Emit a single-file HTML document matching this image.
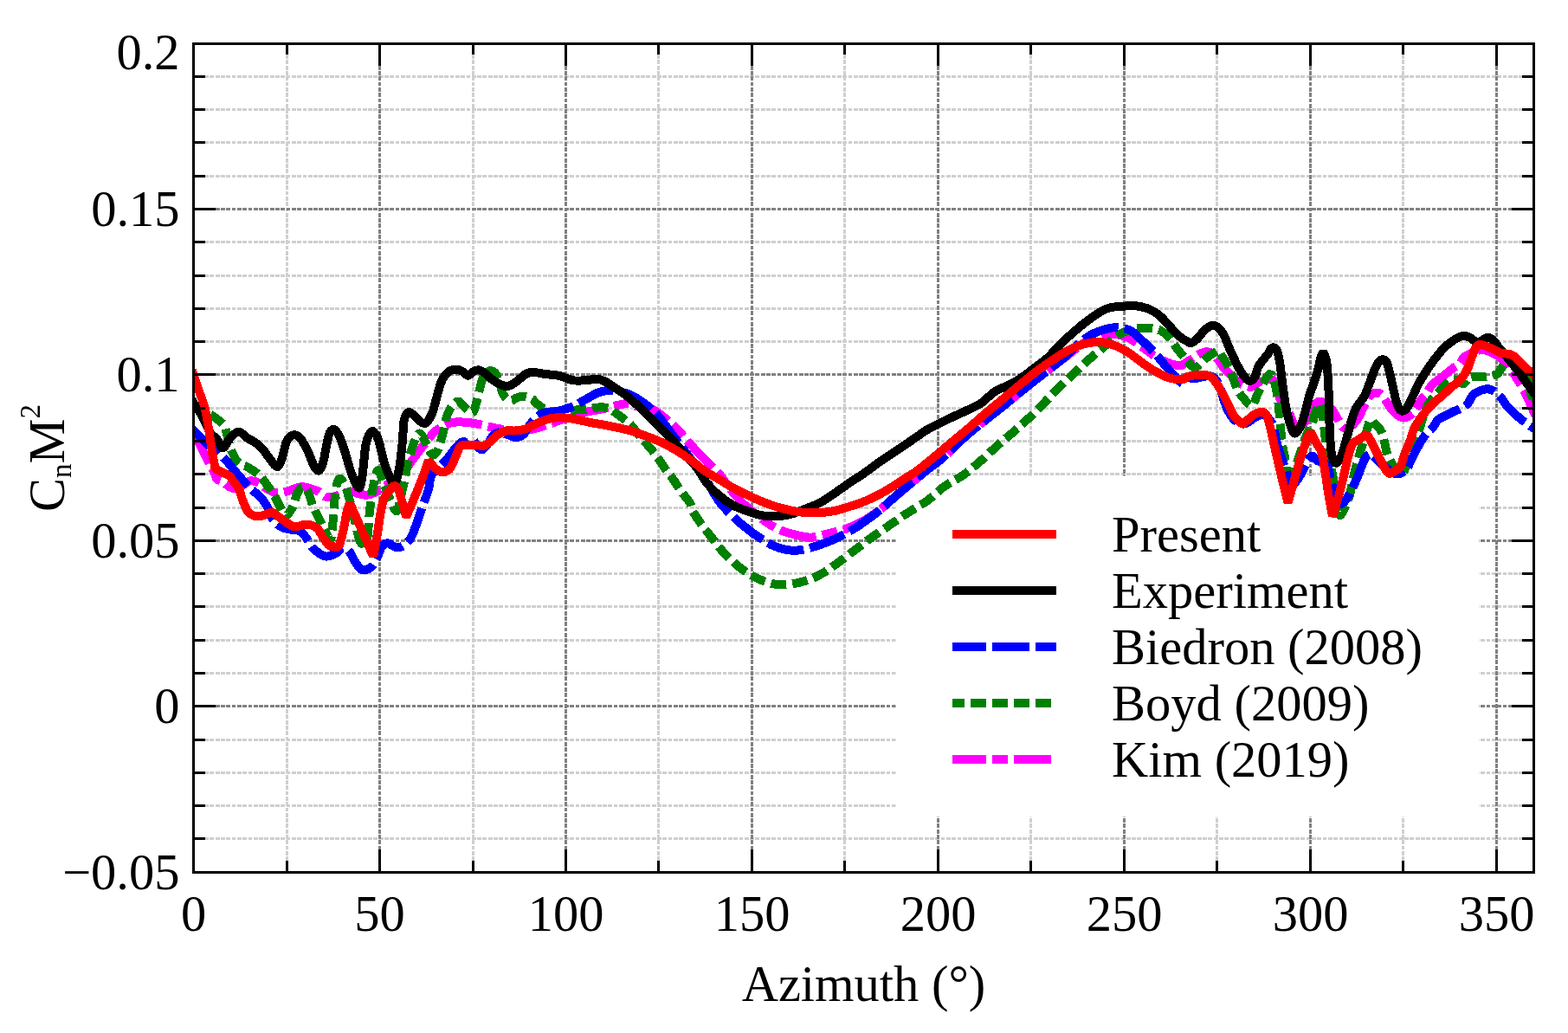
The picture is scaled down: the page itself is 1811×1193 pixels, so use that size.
<!DOCTYPE html>
<html lang="en"><head><meta charset="utf-8"><title>CnM2 vs Azimuth</title>
<style>html,body{margin:0;padding:0;background:#fff;}body{width:1811px;height:1193px;overflow:hidden;}svg{display:block;}text{font-family:"Liberation Serif", "DejaVu Serif", serif;font-size:58.5px;fill:#000;}</style></head><body>
<svg width="1811" height="1193" viewBox="0 0 1811 1193" role="img" aria-label="Normal force coefficient versus azimuth">
<rect x="0" y="0" width="1811" height="1193" fill="#fff"/>
<g fill="none" stroke-width="3" stroke-dasharray="4.8 1.5" shape-rendering="crispEdges">
<g stroke="#cfcfcf">
<path d="M223.5 968.5H1771.5"/>
<path d="M223.5 930.5H1771.5"/>
<path d="M223.5 892.5H1771.5"/>
<path d="M223.5 854.5H1771.5"/>
<path d="M223.5 777.5H1771.5"/>
<path d="M223.5 739.5H1771.5"/>
<path d="M223.5 700.5H1771.5"/>
<path d="M223.5 662.5H1771.5"/>
<path d="M223.5 586.5H1771.5"/>
<path d="M223.5 547.5H1771.5"/>
<path d="M223.5 509.5H1771.5"/>
<path d="M223.5 471.5H1771.5"/>
<path d="M223.5 394.5H1771.5"/>
<path d="M223.5 356.5H1771.5"/>
<path d="M223.5 318.5H1771.5"/>
<path d="M223.5 279.5H1771.5"/>
<path d="M223.5 203.5H1771.5"/>
<path d="M223.5 164.5H1771.5"/>
<path d="M223.5 126.5H1771.5"/>
<path d="M223.5 88.5H1771.5"/>
<path d="M331.5 50.5V1007.5"/>
<path d="M546.5 50.5V1007.5"/>
<path d="M760.5 50.5V1007.5"/>
<path d="M975.5 50.5V1007.5"/>
<path d="M1190.5 50.5V1007.5"/>
<path d="M1405.5 50.5V1007.5"/>
<path d="M1620.5 50.5V1007.5"/>
</g><g stroke="#808080">
<path d="M223.5 815.5H1771.5"/>
<path d="M223.5 624.5H1771.5"/>
<path d="M223.5 432.5H1771.5"/>
<path d="M223.5 241.5H1771.5"/>
<path d="M438.5 50.5V1007.5"/>
<path d="M653.5 50.5V1007.5"/>
<path d="M868.5 50.5V1007.5"/>
<path d="M1083.5 50.5V1007.5"/>
<path d="M1298.5 50.5V1007.5"/>
<path d="M1513.5 50.5V1007.5"/>
<path d="M1728.5 50.5V1007.5"/>
</g></g>
<rect x="1034.5" y="549.5" width="674.0" height="394.0" fill="#fff"/>
<clipPath id="c"><rect x="223.5" y="50.5" width="1548.0" height="957.0"/></clipPath>
<g clip-path="url(#c)" fill="none" stroke-width="10" stroke-linejoin="bevel" stroke-linecap="butt" shape-rendering="crispEdges">
<path stroke="#ff00ff" stroke-dasharray="43 7 18 7" d="M221.5 497.0C221.7 497.4 222.8 499.4 223.5 500.6C226.3 505.6 229.0 510.3 231.8 515.6C234.6 520.9 237.3 527.1 240.1 532.4C242.9 537.7 245.7 541.7 248.5 547.5C249.0 548.5 249.5 552.3 250.0 552.8C252.5 555.3 255.0 555.0 257.5 556.6C260.0 558.2 262.6 561.0 265.1 562.3C267.6 563.6 270.1 564.5 272.6 564.2C275.1 563.9 277.7 561.8 280.2 560.4C283.1 558.8 286.1 555.9 289.0 555.4C291.9 554.9 294.9 555.8 297.8 557.2C301.1 558.8 304.5 562.2 307.8 564.2C311.2 566.2 314.5 568.4 317.9 569.2C320.8 569.9 323.8 569.1 326.7 568.6C329.6 568.1 332.6 567.2 335.5 566.2C338.4 565.2 341.4 563.6 344.3 562.9C346.8 562.3 349.3 562.2 351.8 562.5C354.7 562.9 357.7 563.9 360.6 564.9C363.1 565.7 365.7 566.4 368.2 567.9C370.7 569.3 373.2 572.5 375.7 573.6C378.2 574.7 380.7 574.6 383.2 574.2C387.0 573.6 390.8 571.4 394.6 570.4C398.8 569.3 402.9 567.9 407.1 567.9C409.6 567.9 412.2 569.8 414.7 570.4C417.6 571.1 420.6 571.9 423.5 571.7C426.4 571.5 429.4 570.5 432.3 569.2C434.8 568.0 437.3 565.8 439.8 564.2C441.9 562.9 444.0 561.9 446.1 560.4C449.4 558.1 452.8 555.3 456.1 552.8C459.5 550.3 462.8 548.9 466.2 545.3C470.0 541.2 473.8 534.6 477.6 529.5C481.8 523.9 485.9 518.3 490.1 513.1C494.3 507.8 498.5 501.9 502.7 498.0C506.1 494.8 509.4 493.6 512.8 491.8C515.3 490.5 517.8 489.3 520.3 488.6C522.8 487.9 525.3 487.5 527.8 487.4C532.0 487.3 536.2 487.6 540.4 488.0C544.6 488.4 548.8 489.1 553.0 489.9C556.3 490.5 559.7 491.6 563.0 492.4C565.9 493.1 568.9 493.7 571.8 494.3C573.9 494.7 576.0 495.2 578.1 495.5C582.3 496.2 586.5 497.1 590.7 497.4C594.9 497.7 599.1 497.7 603.3 497.4C607.5 497.1 611.6 496.4 615.8 495.5C620.0 494.6 624.2 493.2 628.4 491.8C632.6 490.4 636.8 488.9 641.0 487.4C645.2 485.9 649.3 484.5 653.5 483.0C657.7 481.5 661.9 479.9 666.1 478.6C670.3 477.3 674.5 476.3 678.7 475.4C684.7 474.1 690.8 473.4 696.8 472.1C702.4 470.9 707.9 469.1 713.5 467.9C716.9 467.2 720.2 466.1 723.6 466.3C726.9 466.4 730.3 468.0 733.6 468.8C740.9 470.5 748.1 470.9 755.4 473.8C759.3 475.4 763.3 479.1 767.2 482.2C771.7 485.8 776.1 489.4 780.6 493.9C785.1 498.4 789.5 504.0 794.0 509.0C798.5 514.0 802.9 519.4 807.4 524.1C811.9 528.9 816.3 533.1 820.8 537.5C824.0 540.6 827.1 543.0 830.3 546.8C834.8 552.2 839.2 559.7 843.7 565.3C848.2 570.9 852.6 575.8 857.1 580.3C861.6 584.8 866.0 588.5 870.5 592.1C875.0 595.7 879.4 599.0 883.9 602.1C888.4 605.2 892.8 608.3 897.3 610.5C901.8 612.7 906.2 614.1 910.7 615.5C915.2 616.9 919.6 618.0 924.1 618.9C928.6 619.8 933.0 620.8 937.5 620.6C942.0 620.4 946.4 618.8 950.9 617.7C955.4 616.6 959.9 615.4 964.4 614.2C968.9 613.0 973.3 612.1 977.8 610.5C982.3 608.9 986.7 606.8 991.2 604.6C995.7 602.4 1000.1 600.0 1004.6 597.1C1009.1 594.2 1013.5 591.0 1018.0 587.5C1022.5 583.9 1026.9 579.6 1031.4 575.8C1035.9 571.9 1040.3 568.2 1044.8 564.4C1052.8 557.7 1060.9 550.8 1068.9 544.3C1075.3 539.1 1081.8 534.9 1088.2 529.3C1097.8 520.9 1107.5 510.6 1117.1 502.3C1129.9 491.3 1142.8 481.8 1155.6 471.5C1168.5 461.1 1181.3 450.4 1194.2 440.2C1200.6 435.1 1207.1 430.3 1213.5 425.4C1219.9 420.5 1226.3 415.5 1232.7 410.6C1239.1 405.7 1245.6 399.7 1252.0 395.9C1258.4 392.1 1264.9 389.7 1271.3 387.8C1276.4 386.3 1281.6 385.6 1286.7 385.9C1291.8 386.2 1297.0 387.4 1302.1 389.7C1307.2 391.9 1312.4 395.9 1317.5 399.4C1322.7 402.9 1327.8 407.7 1333.0 410.9C1338.1 414.1 1343.3 416.8 1348.4 418.7C1353.5 420.6 1358.7 422.5 1363.8 422.5C1365.9 422.5 1367.9 419.8 1370.0 418.5C1372.1 417.2 1374.2 416.0 1376.3 414.7C1379.2 412.9 1382.2 410.5 1385.1 409.1C1388.0 407.7 1391.0 406.2 1393.9 406.2C1396.4 406.2 1398.9 407.2 1401.4 409.1C1403.5 410.7 1405.6 413.9 1407.7 416.6C1409.8 419.3 1411.9 423.0 1414.0 425.4C1416.9 428.8 1419.9 431.4 1422.8 434.2C1425.7 437.0 1428.7 440.4 1431.6 442.4C1434.5 444.4 1437.5 445.3 1440.4 446.2C1442.1 446.7 1443.7 447.4 1445.4 446.8C1447.9 445.9 1450.5 443.3 1453.0 441.8C1455.5 440.3 1458.0 438.6 1460.5 438.0C1463.0 437.4 1465.5 437.2 1468.0 438.0C1469.7 438.5 1471.4 438.2 1473.1 441.8C1474.3 444.4 1475.6 453.5 1476.8 456.8C1478.9 462.3 1481.0 464.6 1483.1 468.2C1485.2 471.8 1487.3 474.2 1489.4 478.2C1491.5 482.2 1493.6 489.7 1495.7 492.0C1497.8 494.3 1499.9 493.0 1502.0 492.0C1504.1 491.0 1506.2 488.9 1508.3 485.8C1510.4 482.7 1512.5 476.7 1514.6 473.2C1516.7 469.8 1518.7 466.7 1520.8 465.0C1522.5 463.6 1524.2 463.4 1525.9 463.8C1528.0 464.3 1530.1 465.9 1532.2 467.5C1534.3 469.1 1536.3 470.6 1538.4 473.2C1540.5 475.8 1542.6 479.7 1544.7 483.2C1546.4 486.0 1548.0 490.1 1549.7 492.0C1551.4 493.9 1553.1 494.8 1554.8 494.6C1557.3 494.4 1559.8 493.1 1562.3 490.8C1564.9 488.5 1567.4 485.1 1570.0 480.7C1572.1 477.1 1574.2 470.8 1576.3 466.8C1578.4 462.8 1580.5 459.0 1582.6 456.8C1584.7 454.6 1586.8 453.8 1588.9 453.6C1591.0 453.4 1593.0 453.7 1595.1 455.5C1597.2 457.3 1599.3 461.4 1601.4 464.3C1603.5 467.2 1605.6 470.6 1607.7 473.1C1609.8 475.6 1611.9 478.0 1614.0 479.4C1616.5 481.1 1619.0 482.6 1621.5 482.6C1624.0 482.6 1626.6 481.1 1629.1 479.4C1631.2 478.0 1633.3 476.1 1635.4 473.1C1637.1 470.7 1638.7 465.6 1640.4 463.1C1642.9 459.3 1645.4 457.8 1647.9 454.3C1649.6 451.9 1651.3 447.3 1653.0 445.5C1657.2 441.0 1661.3 438.7 1665.5 435.4C1669.7 432.0 1673.9 428.6 1678.1 425.4C1680.6 423.5 1683.1 422.8 1685.6 420.3C1687.3 418.6 1689.0 414.4 1690.7 412.8C1693.2 410.4 1695.7 409.7 1698.2 408.4C1700.7 407.1 1703.3 405.7 1705.8 405.0C1708.3 404.3 1710.8 404.0 1713.3 404.2C1715.8 404.4 1718.3 405.3 1720.8 406.3C1724.2 407.7 1727.5 409.2 1730.9 411.5C1733.4 413.2 1735.9 415.7 1738.4 418.4C1740.9 421.2 1743.5 424.3 1746.0 427.9C1748.5 431.4 1751.0 435.7 1753.5 439.8C1755.6 443.2 1757.7 446.4 1759.8 450.3C1761.5 453.4 1763.1 457.0 1764.8 460.6C1767.0 465.4 1769.3 470.6 1771.5 475.6C1772.2 477.1 1773.3 479.6 1773.5 480.1"/>
<path stroke="#008000" stroke-dasharray="18 7" d="M221.5 465.8C221.7 465.9 222.8 466.6 223.5 467.0C231.7 472.0 239.8 476.5 248.0 482.0C251.5 484.4 255.1 487.1 258.6 490.5C259.1 491.0 259.6 492.0 260.1 493.8C262.2 501.1 264.2 512.2 266.3 517.7C269.2 525.6 272.2 530.7 275.1 534.0C278.5 537.8 281.8 537.0 285.2 539.0C289.8 541.8 294.4 544.2 299.0 548.4C302.4 551.5 305.7 556.3 309.1 561.0C312.2 565.4 315.4 570.1 318.5 575.5C320.8 579.5 323.1 584.7 325.4 589.3C326.7 591.8 327.9 596.4 329.2 596.8C330.9 597.3 332.5 594.1 334.2 591.8C335.9 589.5 337.5 587.1 339.2 583.0C340.5 579.9 341.7 573.0 343.0 570.4C345.1 566.1 347.2 562.7 349.3 562.3C351.4 561.9 353.5 564.0 355.6 567.9C357.7 571.8 359.8 580.5 361.9 585.5C364.4 591.4 366.9 595.6 369.4 600.6C371.5 604.8 373.6 609.4 375.7 613.2C377.8 617.0 379.9 623.8 382.0 623.2C382.6 623.0 383.3 617.0 383.9 610.7C384.5 604.4 385.2 593.3 385.8 585.5C386.4 578.2 387.0 568.6 387.6 565.4C389.1 557.7 390.5 553.5 392.0 552.8C394.1 551.8 396.2 556.0 398.3 560.4C400.2 564.4 402.1 571.2 404.0 578.0C405.9 584.6 407.7 592.9 409.6 600.6C411.3 607.6 413.0 616.8 414.7 622.0C415.9 625.8 417.2 628.1 418.4 627.6C420.5 626.8 422.6 626.7 424.7 618.2C425.3 615.6 426.0 600.5 426.6 594.3C427.6 584.2 428.7 575.8 429.7 569.2C431.0 561.1 432.2 555.0 433.5 550.3C434.6 546.4 435.6 542.5 436.7 543.4C439.0 545.4 441.3 553.6 443.6 559.1C446.1 565.1 448.6 572.9 451.1 578.0C453.6 583.2 456.2 591.4 458.7 589.9C460.4 588.9 462.0 577.4 463.7 570.4C465.4 563.4 467.0 556.0 468.7 547.8C469.1 545.7 469.6 541.5 470.0 539.5C471.3 533.7 472.5 528.7 473.8 524.4C475.5 518.7 477.1 513.3 478.8 509.4C480.5 505.4 482.2 501.2 483.9 500.6C485.6 500.0 487.2 502.8 488.9 505.6C491.0 509.1 493.1 515.7 495.2 519.4C496.9 522.4 498.5 525.5 500.2 525.7C501.9 525.9 503.5 523.8 505.2 520.7C506.5 518.4 507.7 513.6 509.0 509.4C510.3 505.2 511.5 500.8 512.8 495.5C513.6 492.0 514.5 485.7 515.3 483.0C517.0 477.7 518.6 474.0 520.3 471.6C523.2 467.5 526.2 464.0 529.1 463.5C531.2 463.2 533.3 467.2 535.4 469.1C537.9 471.4 540.4 474.6 542.9 476.0C544.2 476.7 545.4 477.4 546.7 475.4C548.0 473.4 549.2 468.7 550.5 464.1C551.7 459.7 553.0 453.1 554.2 448.4C555.5 443.6 556.7 438.3 558.0 435.8C560.1 431.7 562.2 429.5 564.3 428.7C566.8 427.8 569.3 428.1 571.8 430.8C573.5 432.6 575.2 437.6 576.9 442.1C578.1 445.4 579.4 451.7 580.6 454.1C582.7 458.2 584.8 460.3 586.9 461.8C588.6 463.0 590.3 462.6 592.0 462.2C593.7 461.8 595.3 459.9 597.0 459.3C599.9 458.3 602.9 457.4 605.8 457.6C608.7 457.8 611.7 458.8 614.6 460.6C616.3 461.6 617.9 464.7 619.6 466.0C623.8 469.2 628.0 472.8 632.2 474.2C637.2 475.9 642.3 475.5 647.3 475.4C653.2 475.3 659.0 474.1 664.9 473.5C669.9 473.0 674.9 472.9 679.9 472.3C682.7 472.0 685.6 471.1 688.4 470.8C691.2 470.5 694.0 470.1 696.8 470.4C699.6 470.7 702.3 471.1 705.1 472.6C709.0 474.7 713.0 478.4 716.9 481.3C720.2 483.8 723.6 485.6 726.9 488.9C730.3 492.2 733.6 496.9 737.0 500.9C740.3 504.9 743.7 508.8 747.0 512.8C750.4 516.8 753.7 520.4 757.1 524.9C760.5 529.4 763.8 535.0 767.2 539.7C770.5 544.4 773.9 548.4 777.2 553.1C780.6 557.9 783.9 563.4 787.3 568.2C790.6 572.9 794.0 575.8 797.3 581.6C798.2 583.2 799.2 588.7 800.1 590.4C803.5 596.6 806.8 600.8 810.2 605.5C814.1 610.9 818.0 615.6 821.9 620.6C825.8 625.6 829.7 631.2 833.6 635.6C837.5 640.1 841.5 643.8 845.4 647.4C849.3 651.0 853.2 654.5 857.1 657.4C861.6 660.7 866.0 663.4 870.5 665.8C875.0 668.2 879.4 670.2 883.9 671.7C888.4 673.2 892.8 674.5 897.3 675.0C901.8 675.5 906.2 675.4 910.7 675.0C915.2 674.6 919.6 673.6 924.1 672.5C928.6 671.4 933.0 670.1 937.5 668.3C942.0 666.5 946.4 664.2 950.9 661.6C955.4 658.9 959.9 655.6 964.4 652.4C968.9 649.2 973.3 645.6 977.8 642.3C982.3 638.9 986.7 635.6 991.2 632.3C995.7 628.9 1000.1 625.4 1004.6 622.2C1009.1 619.0 1013.5 616.1 1018.0 613.0C1022.5 609.9 1026.9 606.9 1031.4 603.8C1035.9 600.7 1040.3 597.5 1044.8 594.6C1049.3 591.7 1053.7 589.0 1058.2 586.2C1062.7 583.4 1067.1 581.2 1071.6 577.8C1077.8 573.2 1083.9 566.6 1090.1 562.2C1097.8 556.7 1105.5 553.6 1113.2 548.2C1119.6 543.7 1126.1 538.0 1132.5 532.4C1139.6 526.3 1146.6 519.3 1153.7 513.1C1160.1 507.4 1166.6 502.4 1173.0 496.7C1178.8 491.6 1184.5 486.4 1190.3 480.9C1196.1 475.3 1201.9 469.3 1207.7 463.4C1213.5 457.5 1219.2 451.3 1225.0 445.6C1230.8 439.9 1236.6 434.7 1242.4 429.3C1248.8 423.4 1255.2 417.3 1261.6 411.7C1266.8 407.2 1271.9 403.3 1277.1 399.0C1281.6 395.3 1286.1 390.8 1290.6 387.8C1295.1 384.8 1299.6 382.6 1304.1 381.1C1308.6 379.7 1313.0 379.5 1317.5 379.1C1321.4 378.8 1325.2 378.6 1329.1 379.1C1333.0 379.6 1336.8 380.1 1340.7 382.0C1343.9 383.6 1347.1 386.2 1350.3 389.7C1353.5 393.2 1356.7 399.0 1359.9 403.2C1363.1 407.4 1366.4 411.2 1369.6 414.8C1372.8 418.3 1376.0 423.3 1379.2 424.4C1381.6 425.2 1383.9 422.2 1386.3 420.4C1388.4 418.8 1390.5 415.8 1392.6 414.1C1396.6 410.9 1400.6 408.2 1404.6 405.9C1405.6 405.3 1406.7 404.4 1407.7 405.3C1409.0 406.3 1410.2 409.4 1411.5 411.6C1414.4 416.6 1417.4 420.4 1420.3 426.7C1423.2 433.0 1426.2 443.4 1429.1 449.3C1432.0 455.2 1435.0 458.7 1437.9 461.9C1440.8 465.0 1443.8 469.3 1446.7 468.2C1448.4 467.6 1450.0 460.3 1451.7 456.8C1453.8 452.4 1455.9 448.2 1458.0 444.3C1459.9 440.8 1461.7 437.0 1463.6 434.5C1465.1 432.6 1467.6 431.3 1468.0 431.1C1468.4 432.0 1470.9 437.3 1472.4 443.0C1473.7 447.9 1474.9 454.2 1476.2 463.1C1476.8 467.6 1477.5 476.4 1478.1 483.2C1478.9 492.1 1479.8 504.1 1480.6 510.3C1481.9 519.8 1483.1 523.2 1484.4 530.4C1486.1 539.9 1487.7 558.8 1489.4 560.5C1491.5 562.6 1493.6 548.0 1495.7 541.7C1499.9 529.1 1504.1 515.2 1508.3 504.0C1510.4 498.4 1512.5 496.7 1514.6 491.4C1516.7 486.2 1518.7 477.5 1520.8 472.6C1522.1 469.6 1523.3 464.1 1524.6 467.5C1526.3 472.0 1527.9 485.1 1529.6 496.4C1530.5 502.3 1531.3 514.4 1532.2 519.1C1534.5 531.6 1536.8 535.9 1539.1 548.0C1541.4 560.2 1543.7 582.2 1546.0 592.0C1547.2 597.3 1548.5 595.1 1549.7 593.2C1552.6 588.8 1555.6 582.4 1558.5 573.1C1560.2 567.7 1561.9 556.3 1563.6 549.2C1565.7 540.4 1567.8 532.5 1569.9 525.3C1572.4 516.6 1575.0 509.6 1577.5 501.5C1579.1 496.2 1580.8 487.7 1582.4 485.1C1583.7 483.1 1585.0 486.3 1586.3 487.7C1589.7 491.3 1593.0 492.4 1596.4 500.2C1598.3 504.6 1600.2 518.2 1602.1 524.1C1604.0 529.9 1605.8 532.3 1607.7 535.4C1609.8 538.9 1611.9 542.1 1614.0 544.0C1616.1 545.9 1618.2 548.8 1620.3 546.5C1622.4 544.2 1624.5 536.1 1626.6 530.4C1628.7 524.8 1630.7 518.4 1632.8 512.8C1634.9 507.1 1637.0 502.6 1639.1 496.5C1641.2 490.4 1643.3 481.8 1645.4 476.3C1647.5 470.9 1649.6 467.1 1651.7 463.8C1653.8 460.6 1655.9 459.1 1658.0 456.8C1661.8 452.6 1665.5 447.7 1669.3 444.2C1672.2 441.4 1675.2 438.1 1678.1 437.9C1682.3 437.7 1686.5 443.6 1690.7 443.0C1692.8 442.7 1694.9 436.1 1697.0 435.4C1703.1 433.5 1709.1 435.7 1715.2 435.4C1717.5 435.3 1719.8 434.8 1722.1 434.2C1724.6 433.5 1727.1 433.3 1729.6 431.6C1730.9 430.7 1732.1 428.3 1733.4 426.6C1735.5 423.8 1737.6 418.9 1739.7 418.1C1743.3 416.8 1746.9 419.6 1750.5 420.3C1754.4 421.1 1758.4 420.2 1762.3 422.8C1763.4 423.5 1764.5 424.1 1765.6 430.4C1766.3 434.2 1766.9 449.7 1767.6 453.0C1768.9 459.4 1770.2 457.2 1771.5 459.3C1772.2 460.4 1773.3 462.2 1773.5 462.5"/>
<path stroke="#0000ff" stroke-dasharray="43 7" d="M221.5 494.6C221.7 494.8 222.8 495.9 223.5 496.6C229.0 502.2 234.6 508.4 240.1 513.4C245.1 517.9 250.2 520.1 255.2 525.1C261.4 531.2 267.5 539.8 273.7 546.9C278.7 552.7 283.7 558.7 288.7 563.7C293.2 568.2 297.7 570.2 302.2 575.4C305.0 578.6 307.7 583.6 310.5 588.8C312.2 592.0 313.9 598.3 315.6 600.6C318.9 605.0 322.3 607.1 325.6 608.9C329.0 610.7 332.3 610.7 335.7 611.5C339.6 612.4 343.5 611.6 347.4 614.0C350.2 615.7 353.0 620.3 355.8 624.0C358.0 627.0 360.3 632.0 362.5 634.1C367.0 638.2 371.4 641.6 375.9 642.5C379.8 643.3 383.7 640.9 387.6 639.1C390.4 637.8 393.2 633.8 396.0 633.2C398.2 632.7 400.5 633.4 402.7 635.8C404.9 638.2 407.2 644.0 409.4 647.5C411.6 651.0 413.9 654.6 416.1 656.7C417.8 658.3 419.4 658.7 421.1 658.4C423.9 657.9 426.7 657.1 429.5 654.2C431.7 651.8 434.0 646.9 436.2 642.5C437.9 639.1 439.6 632.9 441.3 630.7C443.5 627.8 445.8 627.2 448.0 627.4C451.3 627.7 454.7 631.9 458.0 632.4C460.8 632.8 463.6 631.8 466.4 629.9C469.2 627.9 472.0 625.5 474.8 620.7C477.0 616.9 479.3 610.0 481.5 603.9C483.7 597.8 486.0 590.2 488.2 583.8C490.4 577.4 492.7 573.3 494.9 565.4C495.8 562.1 496.8 551.9 497.7 550.0C501.0 543.3 504.4 543.1 507.7 539.5C511.1 535.8 514.4 532.2 517.8 528.2C520.7 524.7 523.7 520.3 526.6 516.9C528.7 514.5 530.8 511.6 532.9 510.6C535.4 509.5 537.9 510.9 540.4 510.6C542.5 510.3 544.6 507.8 546.7 508.7C548.4 509.4 550.0 513.8 551.7 515.6C553.4 517.4 555.1 519.8 556.8 519.4C558.9 518.9 560.9 515.8 563.0 513.1C565.1 510.4 567.2 505.2 569.3 503.1C571.8 500.6 574.4 499.5 576.9 499.3C579.8 499.1 582.8 500.9 585.7 501.8C589.0 502.8 592.4 505.0 595.7 505.0C598.6 505.0 601.6 504.4 604.5 501.8C607.0 499.6 609.6 493.9 612.1 490.5C614.6 487.2 617.1 483.8 619.6 481.7C622.5 479.2 625.5 477.6 628.4 476.7C632.6 475.5 636.8 476.1 641.0 475.4C645.2 474.7 649.3 473.6 653.5 472.3C656.9 471.3 660.2 470.1 663.6 468.5C667.0 466.9 670.3 464.7 673.7 462.8C677.0 460.9 680.4 459.0 683.7 457.2C685.8 456.0 688.0 454.5 690.1 453.7C693.4 452.5 696.8 451.4 700.1 451.2C704.6 450.9 709.0 451.3 713.5 452.0C718.0 452.7 722.4 453.6 726.9 455.4C730.8 457.0 734.8 459.5 738.7 462.1C743.2 465.1 747.6 468.1 752.1 472.1C756.0 475.6 759.9 479.9 763.8 484.7C767.7 489.4 771.6 495.4 775.5 500.6C779.4 505.8 783.4 510.8 787.3 516.0C790.6 520.4 794.0 525.0 797.3 529.4C800.7 533.9 804.0 538.1 807.4 542.8C810.7 547.5 814.1 552.4 817.4 557.6C821.7 564.3 826.0 572.7 830.3 578.7C834.2 584.2 838.1 588.1 842.0 592.1C845.9 596.1 849.8 599.6 853.7 603.0C858.2 606.9 862.7 610.5 867.2 613.9C871.7 617.2 876.1 620.3 880.6 623.1C885.1 625.9 889.5 628.7 894.0 630.6C898.5 632.5 902.9 634.0 907.4 634.8C911.9 635.6 916.3 635.9 920.8 635.6C925.3 635.3 929.7 634.2 934.2 633.1C938.7 632.0 943.1 630.4 947.6 628.9C952.1 627.4 956.5 625.8 961.0 623.9C965.5 622.0 969.9 619.6 974.4 617.2C978.9 614.8 983.3 612.5 987.8 609.7C992.3 606.9 996.7 603.6 1001.2 600.4C1005.7 597.2 1010.1 594.0 1014.6 590.4C1019.1 586.8 1023.5 582.6 1028.0 578.7C1032.5 574.8 1037.0 570.7 1041.5 566.9C1050.6 559.2 1059.8 551.7 1068.9 544.3C1075.3 539.1 1081.8 534.9 1088.2 529.3C1097.8 520.9 1107.5 510.6 1117.1 502.3C1129.9 491.3 1142.8 481.8 1155.6 471.5C1168.5 461.1 1181.3 450.4 1194.2 440.2C1200.6 435.1 1207.1 430.4 1213.5 425.4C1219.9 420.4 1226.3 415.6 1232.7 410.0C1237.9 405.5 1243.0 399.3 1248.2 395.0C1252.7 391.3 1257.1 388.2 1261.6 385.9C1266.8 383.2 1271.9 381.5 1277.1 380.1C1281.6 378.9 1286.1 377.9 1290.6 378.2C1295.7 378.5 1300.9 379.3 1306.0 382.0C1310.5 384.4 1315.0 389.4 1319.5 393.6C1324.0 397.8 1328.5 402.2 1333.0 407.1C1336.8 411.2 1340.7 416.1 1344.5 420.6C1348.4 425.1 1352.2 430.3 1356.1 434.1C1360.0 438.0 1363.8 442.6 1367.7 443.7C1368.5 443.9 1369.2 438.4 1370.0 438.0C1374.2 436.0 1378.4 437.3 1382.6 436.7C1386.8 436.1 1390.9 434.2 1395.1 434.2C1397.6 434.2 1400.2 434.4 1402.7 436.7C1404.8 438.6 1406.9 442.0 1409.0 446.8C1410.2 449.6 1411.5 455.7 1412.7 459.4C1414.4 464.5 1416.1 469.7 1417.8 473.2C1419.9 477.6 1422.0 480.9 1424.1 483.2C1427.0 486.4 1429.9 488.6 1432.8 489.5C1435.3 490.3 1437.9 489.4 1440.4 488.3C1442.9 487.3 1445.4 484.7 1447.9 483.2C1450.4 481.7 1453.0 480.2 1455.5 479.5C1457.6 478.9 1459.7 478.3 1461.8 479.5C1463.5 480.4 1465.1 483.5 1466.8 485.8C1468.1 487.5 1469.3 487.3 1470.6 491.4C1471.8 495.4 1473.1 505.5 1474.3 510.3C1476.4 518.5 1478.5 524.1 1480.6 530.4C1482.7 536.7 1484.8 543.0 1486.9 548.0C1488.8 552.5 1490.7 557.2 1492.6 558.7C1494.1 559.9 1495.5 557.7 1497.0 556.1C1498.7 554.3 1500.3 551.6 1502.0 548.6C1504.1 544.9 1506.2 539.5 1508.3 536.0C1510.6 532.2 1512.9 527.4 1515.2 526.6C1517.1 525.9 1518.9 530.4 1520.8 531.6C1523.3 533.2 1525.9 533.4 1528.4 534.8C1530.1 535.7 1531.7 534.8 1533.4 538.5C1534.7 541.3 1535.9 549.5 1537.2 554.3C1539.1 561.4 1540.9 569.6 1542.8 574.4C1544.5 578.8 1546.2 581.5 1547.9 581.9C1550.2 582.4 1552.5 580.0 1554.8 576.9C1557.7 572.9 1560.7 566.5 1563.6 560.5C1565.7 556.2 1567.8 551.3 1569.9 546.1C1571.2 542.9 1572.5 538.5 1573.8 535.4C1575.0 532.4 1576.3 529.5 1577.5 527.9C1579.2 525.7 1580.9 524.1 1582.6 524.1C1584.3 524.1 1585.9 526.4 1587.6 527.9C1590.1 530.2 1592.6 533.1 1595.1 535.4C1597.6 537.7 1600.2 539.8 1602.7 541.7C1605.2 543.6 1607.7 545.9 1610.2 546.7C1612.7 547.5 1615.3 547.8 1617.8 546.7C1620.3 545.7 1622.8 543.7 1625.3 540.4C1627.0 538.2 1628.6 533.7 1630.3 530.4C1632.0 527.0 1633.7 523.5 1635.4 520.3C1637.5 516.4 1639.5 512.3 1641.6 509.0C1643.7 505.6 1645.8 502.7 1647.9 500.2C1650.4 497.2 1653.0 495.7 1655.5 492.7C1657.2 490.7 1658.8 486.6 1660.5 485.1C1663.4 482.4 1666.4 481.7 1669.3 480.1C1672.2 478.5 1675.2 477.1 1678.1 475.7C1681.0 474.3 1684.0 473.6 1686.9 471.9C1689.8 470.2 1692.8 468.9 1695.7 465.7C1697.4 463.9 1699.0 458.6 1700.7 456.8C1703.2 454.0 1705.8 452.9 1708.3 451.8C1711.6 450.4 1715.0 449.0 1718.3 449.2C1721.2 449.4 1724.2 451.0 1727.1 453.0C1729.6 454.8 1732.2 457.6 1734.7 460.6C1736.4 462.6 1738.0 466.1 1739.7 468.1C1742.6 471.6 1745.6 474.2 1748.5 476.9C1751.8 480.0 1755.2 483.1 1758.5 485.7C1762.8 489.0 1767.2 491.6 1771.5 494.5C1772.2 495.0 1773.3 495.8 1773.5 495.9"/>
<path stroke="#000000" d="M221.5 461.9C221.7 462.2 222.8 464.0 223.5 465.0C226.8 470.1 230.1 474.5 233.4 480.4C236.8 486.4 240.1 495.3 243.5 500.6C245.7 504.0 247.8 503.8 250.0 506.3C252.5 509.2 255.0 517.2 257.5 517.0C260.4 516.8 263.4 508.0 266.3 505.1C269.5 502.0 272.6 498.6 275.8 498.8C279.4 499.0 282.9 504.0 286.5 506.3C289.4 508.2 292.4 509.2 295.3 511.4C298.2 513.6 301.2 516.1 304.1 519.5C307.0 522.8 309.9 528.0 312.8 531.5C315.3 534.5 317.9 539.3 320.4 539.0C322.1 538.8 323.7 534.8 325.4 530.2C327.1 525.6 328.7 515.8 330.4 511.4C332.1 507.0 333.8 505.1 335.5 503.8C337.6 502.2 339.7 502.0 341.8 502.6C343.9 503.2 345.9 504.8 348.0 507.6C350.5 511.1 353.1 516.1 355.6 521.4C358.1 526.6 360.6 534.8 363.1 539.0C365.0 542.2 366.9 544.3 368.8 543.4C370.3 542.7 371.7 539.1 373.2 534.0C374.5 529.6 375.7 520.8 377.0 515.1C378.2 509.5 379.5 502.6 380.7 500.1C382.6 496.3 384.5 495.7 386.4 496.3C388.3 496.9 390.1 499.9 392.0 503.8C394.1 508.2 396.2 514.9 398.3 521.4C400.8 529.2 403.4 540.1 405.9 546.6C408.8 554.1 411.8 562.6 414.7 563.5C415.9 563.9 417.2 558.3 418.4 550.3C419.7 542.1 420.9 523.0 422.2 515.1C423.5 507.2 424.7 505.0 426.0 502.6C427.7 499.4 429.3 497.3 431.0 498.2C433.1 499.4 435.2 502.9 437.3 508.9C439.4 514.9 441.5 527.3 443.6 534.0C446.1 542.0 448.6 548.0 451.1 552.8C452.8 556.0 454.4 560.0 456.1 557.9C457.8 555.8 459.5 549.8 461.2 540.3C462.4 533.4 463.7 521.5 464.9 508.9C465.4 504.1 465.8 491.1 466.3 488.0C467.3 481.0 468.4 480.2 469.4 478.6C470.9 476.3 472.3 475.7 473.8 476.4C479.2 479.1 484.7 488.7 490.1 489.0C493.0 489.2 496.0 484.0 498.9 477.9C500.6 474.4 502.3 466.2 504.0 460.3C505.7 454.5 507.3 447.2 509.0 442.7C510.7 438.2 512.3 435.5 514.0 433.3C516.1 430.5 518.2 429.0 520.3 427.9C522.4 426.8 524.5 426.7 526.6 426.8C528.7 426.9 530.8 427.2 532.9 428.3C535.4 429.6 537.9 433.5 540.4 433.7C542.5 433.8 544.6 430.3 546.7 429.2C548.8 428.1 550.9 427.0 553.0 427.3C555.5 427.7 558.0 429.6 560.5 431.4C563.4 433.5 566.4 436.9 569.3 439.0C572.2 441.1 575.2 442.7 578.1 444.0C580.6 445.1 583.2 446.5 585.7 446.3C588.2 446.1 590.7 444.5 593.2 443.0C595.7 441.5 598.3 439.0 600.8 437.1C603.3 435.2 605.8 432.6 608.3 431.4C610.8 430.2 613.3 429.9 615.8 429.9C619.2 429.9 622.5 430.9 625.9 431.4C629.2 431.9 632.6 432.3 635.9 432.7C639.3 433.1 642.6 433.2 646.0 433.9C648.5 434.4 651.0 435.6 653.5 436.5C656.0 437.4 658.6 438.8 661.1 439.2C664.4 439.8 667.8 439.6 671.1 439.5C674.5 439.4 677.8 439.0 681.2 438.7C684.2 438.4 687.1 437.5 690.1 437.8C692.9 438.1 695.6 438.9 698.4 440.3C702.3 442.3 706.3 445.2 710.2 447.8C714.7 450.8 719.1 453.5 723.6 457.0C728.1 460.5 732.5 464.6 737.0 468.8C741.5 473.0 745.9 477.7 750.4 482.2C754.9 486.7 759.3 491.1 763.8 495.6C768.3 500.1 772.7 504.2 777.2 509.0C781.7 513.8 786.1 519.1 790.6 524.1C795.1 529.1 799.5 533.4 804.0 539.2C808.3 544.8 812.6 553.1 816.9 558.5C821.4 564.1 825.8 568.3 830.3 572.0C835.9 576.7 841.4 580.6 847.0 583.7C852.6 586.8 858.2 588.5 863.8 590.4C869.4 592.4 875.0 594.4 880.6 595.4C886.2 596.4 891.7 596.6 897.3 596.3C902.9 596.0 908.5 595.2 914.1 593.7C919.7 592.2 925.2 589.6 930.8 587.4C936.4 585.2 942.0 583.3 947.6 580.3C953.2 577.3 958.8 573.1 964.4 569.3C970.0 565.5 975.5 561.5 981.1 557.7C986.7 553.9 992.3 550.5 997.9 546.6C1003.5 542.7 1009.0 538.3 1014.6 534.4C1020.2 530.5 1025.8 526.8 1031.4 523.0C1039.4 517.6 1047.4 512.3 1055.4 506.9C1060.5 503.4 1065.7 499.4 1070.8 496.3C1076.0 493.2 1081.1 491.0 1086.3 488.4C1091.4 485.8 1096.6 483.3 1101.7 480.9C1106.8 478.5 1112.0 476.3 1117.1 473.8C1122.2 471.3 1127.4 469.4 1132.5 466.1C1136.4 463.6 1140.2 459.3 1144.1 456.2C1146.7 454.1 1149.2 451.9 1151.8 450.5C1156.3 448.1 1160.8 446.9 1165.3 444.7C1169.8 442.4 1174.3 440.0 1178.8 437.0C1183.9 433.6 1189.1 429.3 1194.2 425.4C1199.3 421.5 1204.5 418.1 1209.6 413.5C1214.7 408.8 1219.9 402.6 1225.0 397.5C1230.1 392.4 1235.3 387.7 1240.4 383.2C1245.6 378.7 1250.7 374.4 1255.9 370.5C1261.0 366.6 1266.2 362.8 1271.3 359.9C1275.1 357.7 1279.0 356.1 1282.8 355.1C1286.7 354.1 1290.5 354.4 1294.4 354.1C1298.3 353.8 1302.1 353.1 1306.0 353.1C1309.8 353.1 1313.7 353.3 1317.5 354.1C1321.4 354.9 1325.2 356.0 1329.1 357.9C1333.0 359.8 1336.8 362.3 1340.7 365.7C1344.5 369.1 1348.4 374.2 1352.2 378.2C1356.1 382.2 1359.9 386.5 1363.8 389.7C1367.0 392.3 1370.2 393.6 1373.4 395.5C1373.9 395.8 1374.5 396.7 1375.0 396.5C1377.5 395.4 1380.1 393.8 1382.6 391.5C1384.7 389.6 1386.8 386.1 1388.9 383.9C1391.0 381.7 1393.0 379.6 1395.1 378.3C1397.2 376.9 1399.3 375.7 1401.4 375.8C1403.5 375.9 1405.6 376.9 1407.7 378.9C1409.8 380.9 1411.9 383.7 1414.0 387.7C1415.7 390.9 1417.3 396.4 1419.0 400.3C1420.7 404.3 1422.4 408.0 1424.1 411.6C1426.2 416.0 1428.2 420.5 1430.3 424.2C1432.4 428.0 1434.5 431.6 1436.6 434.2C1438.7 436.8 1440.8 439.7 1442.9 439.9C1445.0 440.1 1447.1 438.8 1449.2 435.5C1450.5 433.5 1451.7 426.9 1453.0 424.2C1454.7 420.6 1456.3 418.8 1458.0 416.6C1460.1 413.8 1462.2 412.0 1464.3 409.1C1465.5 407.4 1466.8 404.1 1468.0 402.8C1469.2 401.6 1470.4 400.9 1471.6 401.5C1472.9 402.2 1474.3 402.9 1475.6 406.6C1476.5 409.2 1477.5 414.5 1478.4 420.4C1479.1 425.0 1479.9 432.3 1480.6 438.0C1481.4 444.5 1482.3 451.3 1483.1 456.8C1484.2 463.9 1485.2 471.4 1486.3 475.7C1488.8 485.7 1491.3 496.7 1493.8 499.6C1496.4 502.6 1499.1 497.8 1501.7 493.3C1503.6 490.1 1505.4 482.7 1507.3 476.3C1509.0 470.6 1510.6 462.3 1512.3 456.8C1514.2 450.4 1516.2 446.3 1518.1 440.5C1519.6 435.9 1521.2 431.1 1522.7 425.4C1523.6 421.9 1524.6 415.8 1525.5 412.8C1526.5 409.6 1528.1 407.2 1528.4 406.8C1528.8 407.4 1530.9 410.8 1532.2 417.9C1532.8 421.2 1533.4 428.0 1534.0 438.0C1534.3 443.0 1534.6 453.2 1534.9 463.1C1535.2 474.1 1535.6 494.8 1535.9 500.8C1536.7 515.9 1537.6 522.9 1538.4 526.6C1540.1 534.2 1541.8 535.0 1543.5 534.8C1545.6 534.6 1547.6 530.4 1549.7 525.3C1551.8 520.1 1553.9 511.4 1556.0 504.0C1557.7 498.0 1559.4 490.6 1561.1 485.1C1562.8 479.7 1564.4 474.4 1566.1 471.3C1569.3 465.2 1572.6 463.5 1575.8 457.4C1578.1 453.2 1580.3 446.2 1582.6 440.4C1584.7 435.1 1586.8 428.7 1588.9 424.1C1590.2 421.1 1591.6 419.1 1592.9 417.6C1594.3 416.1 1595.6 415.0 1597.0 415.1C1598.5 415.2 1599.9 415.3 1601.4 418.1C1602.7 420.6 1603.9 426.0 1605.2 431.0C1606.5 436.0 1607.7 442.5 1609.0 448.0C1610.2 453.4 1611.5 459.7 1612.7 463.7C1614.0 467.8 1615.2 470.7 1616.5 472.5C1617.8 474.3 1619.0 474.9 1620.3 474.6C1622.0 474.2 1623.6 473.0 1625.3 470.6C1627.4 467.5 1629.5 462.4 1631.6 458.0C1633.7 453.6 1635.8 448.2 1637.9 444.2C1640.4 439.4 1642.9 435.6 1645.4 431.6C1647.9 427.6 1650.5 423.9 1653.0 420.3C1655.5 416.8 1658.0 413.4 1660.5 410.3C1663.0 407.2 1665.5 404.0 1668.0 401.5C1670.5 399.0 1673.1 397.1 1675.6 395.2C1678.1 393.4 1680.6 391.6 1683.1 390.4C1685.6 389.2 1688.2 387.9 1690.7 387.9C1693.2 387.9 1695.7 389.0 1698.2 390.2C1700.9 391.5 1703.7 395.1 1706.4 395.6C1708.3 396.0 1710.1 393.8 1712.0 392.9C1714.2 391.9 1716.5 389.8 1718.7 389.9C1720.9 390.0 1723.0 391.2 1725.2 393.3C1727.3 395.3 1729.4 399.5 1731.5 402.1C1733.8 405.0 1736.1 407.0 1738.4 409.7C1740.9 412.7 1743.5 415.9 1746.0 419.1C1748.9 422.8 1751.9 426.5 1754.8 430.4C1756.9 433.2 1759.0 436.2 1761.1 439.2C1763.2 442.1 1765.2 445.1 1767.3 448.0C1768.7 449.9 1770.1 451.7 1771.5 453.6C1772.2 454.5 1773.3 456.0 1773.5 456.3"/>
<path stroke="#ff0000" d="M221.5 427.2C221.7 427.8 222.8 431.1 223.5 433.0C225.7 439.3 227.8 445.6 230.0 452.0C232.3 458.6 234.5 463.1 236.8 472.0C238.2 477.5 239.6 486.6 241.0 495.0C242.3 502.6 243.5 512.2 244.8 520.0C246.0 527.6 248.1 539.1 248.5 541.1C249.4 541.6 254.6 544.3 257.7 545.9C260.2 547.2 262.8 547.7 265.3 549.9C267.0 551.4 268.6 554.8 270.3 557.0C272.0 559.3 273.8 559.9 275.5 563.5C277.1 566.7 278.6 573.5 280.2 577.5C282.3 582.8 284.4 588.3 286.5 591.3C288.6 594.3 290.6 594.6 292.7 595.4C295.2 596.3 297.8 596.7 300.3 596.4C302.8 596.1 305.3 594.5 307.8 593.7C309.9 593.0 312.0 591.3 314.1 591.8C316.6 592.4 319.1 595.1 321.6 596.8C324.5 598.8 327.5 601.2 330.4 603.1C333.3 605.0 336.3 607.3 339.2 608.2C341.3 608.8 343.4 607.9 345.5 607.5C348.0 607.0 350.6 605.7 353.1 605.6C355.6 605.5 358.1 606.0 360.6 606.9C362.7 607.7 364.8 608.4 366.9 610.7C369.0 613.0 371.1 617.6 373.2 620.7C375.3 623.8 377.4 627.7 379.5 629.5C381.6 631.3 383.7 631.4 385.8 631.4C387.9 631.4 389.9 633.5 392.0 629.5C393.7 626.2 395.4 616.9 397.1 609.4C398.3 603.9 399.6 595.8 400.8 590.6C401.9 586.1 403.7 581.3 404.0 580.5C404.4 581.5 406.9 587.2 408.4 590.6C411.3 597.3 414.3 604.0 417.2 610.7C420.1 617.4 423.1 624.1 426.0 630.8C427.7 634.7 430.6 641.3 431.1 642.5C431.6 639.9 434.4 625.4 436.0 615.7C437.3 608.1 438.5 597.3 439.8 590.6C441.1 583.9 442.3 578.5 443.6 575.5C445.7 570.5 447.8 569.5 449.9 566.7C451.6 564.5 454.4 561.0 454.9 560.4C455.4 560.6 458.2 562.1 459.9 565.4C461.4 568.3 462.8 574.1 464.3 579.2C465.9 584.7 468.6 595.2 469.1 597.1C471.1 592.5 482.1 566.4 488.6 550.0C490.7 544.7 494.3 533.9 494.9 532.0C496.2 533.6 503.4 542.8 507.7 544.6C511.5 546.2 515.3 545.3 519.1 542.0C521.2 540.2 523.2 533.9 525.3 529.5C527.4 525.1 529.5 517.7 531.6 515.6C534.5 512.7 537.5 514.7 540.4 514.4C543.8 514.1 547.1 513.7 550.5 513.8C553.0 513.9 555.5 515.5 558.0 515.0C560.5 514.5 563.1 512.5 565.6 510.6C568.5 508.3 571.5 504.4 574.4 502.4C577.7 500.1 581.1 498.3 584.4 497.5C587.8 496.7 591.1 497.8 594.5 497.5C598.3 497.2 602.0 497.0 605.8 495.8C609.1 494.8 612.5 492.4 615.8 490.9C619.6 489.2 623.4 487.4 627.2 486.0C630.5 484.8 633.9 483.6 637.2 483.0C641.0 482.3 644.7 482.2 648.5 482.3C652.3 482.4 656.0 482.8 659.8 483.3C663.6 483.9 667.3 484.8 671.1 485.6C674.5 486.3 677.8 487.2 681.2 487.9C686.4 488.9 691.6 489.6 696.8 490.6C702.4 491.6 707.9 492.7 713.5 493.9C719.1 495.2 724.7 496.4 730.3 498.1C735.9 499.8 741.4 501.9 747.0 504.0C752.6 506.1 758.2 508.1 763.8 510.7C769.4 513.4 775.0 516.5 780.6 519.9C786.2 523.2 791.7 526.8 797.3 530.8C802.7 534.7 808.1 539.8 813.5 543.5C819.1 547.4 824.7 550.1 830.3 553.5C835.9 556.8 841.4 560.5 847.0 563.6C852.6 566.7 858.2 569.4 863.8 572.0C869.4 574.6 875.0 577.3 880.6 579.5C886.2 581.7 891.7 583.7 897.3 585.4C902.9 587.1 908.5 588.5 914.1 589.6C919.7 590.7 925.2 591.7 930.8 592.1C936.4 592.5 942.0 592.5 947.6 592.1C953.2 591.7 958.8 591.1 964.4 589.9C970.0 588.7 975.5 586.8 981.1 585.0C986.7 583.2 992.3 581.6 997.9 579.3C1003.5 577.1 1009.0 574.4 1014.6 571.5C1020.2 568.6 1025.8 565.2 1031.4 561.7C1037.0 558.2 1042.6 554.3 1048.2 550.7C1051.9 548.3 1055.6 546.4 1059.3 543.6C1065.7 538.8 1072.1 533.4 1078.5 528.1C1084.9 522.8 1091.4 517.3 1097.8 511.9C1104.2 506.5 1110.7 501.3 1117.1 495.8C1123.5 490.3 1130.0 484.5 1136.4 479.0C1142.8 473.5 1149.2 468.3 1155.6 463.0C1162.0 457.7 1168.5 452.3 1174.9 447.0C1181.3 441.7 1187.8 436.1 1194.2 431.2C1200.6 426.2 1207.1 421.6 1213.5 417.3C1219.9 413.0 1226.3 408.7 1232.7 405.2C1237.9 402.4 1243.0 400.1 1248.2 398.4C1252.7 396.9 1257.1 396.0 1261.6 395.5C1266.1 395.0 1270.6 394.8 1275.1 395.5C1280.3 396.4 1285.4 398.0 1290.6 400.3C1295.7 402.5 1300.9 405.6 1306.0 409.0C1311.1 412.4 1316.3 417.1 1321.4 420.6C1326.5 424.1 1331.7 427.5 1336.8 430.2C1341.9 432.9 1347.1 435.7 1352.2 437.0C1357.4 438.3 1362.5 438.3 1367.7 437.9C1368.5 437.8 1369.2 435.8 1370.0 435.5C1372.5 434.4 1375.0 434.0 1377.5 433.6C1380.4 433.2 1383.4 433.0 1386.3 433.0C1389.2 433.0 1392.2 432.6 1395.1 433.6C1397.2 434.3 1399.3 435.8 1401.4 438.0C1403.5 440.2 1405.6 443.4 1407.7 446.8C1409.8 450.2 1411.9 454.1 1414.0 458.1C1416.1 462.1 1418.2 466.5 1420.3 470.7C1422.0 474.0 1423.6 478.3 1425.3 480.7C1427.4 483.7 1429.5 485.2 1431.6 487.0C1432.9 488.1 1434.1 489.9 1435.4 489.5C1437.9 488.7 1440.4 485.2 1442.9 483.2C1445.4 481.2 1447.9 478.7 1450.4 477.6C1453.3 476.3 1456.3 475.3 1459.2 476.1C1460.7 476.5 1462.1 477.8 1463.6 481.4C1465.1 485.0 1466.5 491.7 1468.0 497.7C1469.7 504.7 1471.4 512.9 1473.1 520.3C1474.8 527.6 1476.4 534.6 1478.1 541.7C1479.8 548.8 1481.4 556.2 1483.1 563.1C1484.6 569.2 1487.1 579.0 1487.5 580.7C1488.1 578.7 1491.3 567.3 1493.2 560.5C1495.3 553.0 1497.4 545.0 1499.5 537.9C1501.6 530.8 1503.7 524.1 1505.8 517.8C1507.5 512.8 1509.1 507.8 1510.8 504.0C1511.8 501.6 1513.6 499.6 1513.9 499.2C1514.6 500.6 1518.5 508.5 1520.8 512.8C1522.7 516.4 1524.6 516.2 1526.5 522.8C1528.0 527.9 1529.4 539.0 1530.9 548.0C1532.2 555.8 1533.4 565.6 1534.7 573.1C1536.2 581.8 1538.7 594.2 1539.1 596.4C1539.8 594.2 1543.7 581.5 1546.0 573.1C1548.1 565.4 1550.2 556.6 1552.3 548.0C1554.0 541.1 1555.6 532.7 1557.3 526.6C1558.8 521.2 1560.2 515.5 1561.7 513.4C1564.8 508.8 1568.0 508.9 1571.1 506.5C1573.4 504.8 1577.3 501.6 1578.0 501.0C1578.5 501.6 1581.1 505.0 1582.6 507.7C1584.7 511.4 1586.8 516.1 1588.9 520.3C1591.0 524.4 1593.0 528.9 1595.1 532.8C1597.2 536.8 1599.3 541.2 1601.4 544.1C1602.7 545.9 1603.9 546.9 1605.2 546.8C1607.7 546.5 1610.2 544.7 1612.7 542.9C1614.4 541.7 1616.1 541.3 1617.8 537.9C1619.5 534.6 1621.1 527.3 1622.8 522.8C1624.9 517.2 1627.0 513.4 1629.1 507.7C1630.3 504.4 1631.6 498.5 1632.8 495.8C1635.3 490.3 1637.9 486.9 1640.4 483.2C1642.9 479.6 1645.4 476.6 1647.9 473.8C1651.3 470.1 1654.6 466.9 1658.0 463.7C1661.8 460.1 1665.5 457.0 1669.3 453.6C1673.1 450.2 1676.8 447.1 1680.6 443.6C1684.0 440.4 1687.3 438.0 1690.7 433.5C1692.6 431.0 1694.4 427.1 1696.3 422.8C1697.8 419.4 1699.2 414.2 1700.7 410.3C1702.0 406.9 1703.2 402.9 1704.5 400.9C1705.9 398.8 1707.2 398.3 1708.6 398.1C1711.0 397.8 1713.4 398.8 1715.8 399.6C1718.7 400.6 1721.7 402.1 1724.6 403.4C1727.5 404.7 1730.5 406.6 1733.4 407.5C1737.6 408.8 1741.8 408.2 1746.0 409.8C1748.1 410.6 1750.2 412.8 1752.3 414.7C1755.2 417.4 1758.2 420.7 1761.1 423.5C1764.6 426.8 1768.0 429.8 1771.5 432.9C1772.2 433.5 1773.3 434.5 1773.5 434.7"/>
</g>
<g stroke="#000" stroke-width="3" fill="none" shape-rendering="crispEdges">
<path d="M223.5 968.5h13.5 M1771.5 968.5h-14"/>
<path d="M223.5 930.5h13.5 M1771.5 930.5h-14"/>
<path d="M223.5 892.5h13.5 M1771.5 892.5h-14"/>
<path d="M223.5 854.5h13.5 M1771.5 854.5h-14"/>
<path d="M223.5 815.5h25.5 M1771.5 815.5h-26"/>
<path d="M223.5 777.5h13.5 M1771.5 777.5h-14"/>
<path d="M223.5 739.5h13.5 M1771.5 739.5h-14"/>
<path d="M223.5 700.5h13.5 M1771.5 700.5h-14"/>
<path d="M223.5 662.5h13.5 M1771.5 662.5h-14"/>
<path d="M223.5 624.5h25.5 M1771.5 624.5h-26"/>
<path d="M223.5 586.5h13.5 M1771.5 586.5h-14"/>
<path d="M223.5 547.5h13.5 M1771.5 547.5h-14"/>
<path d="M223.5 509.5h13.5 M1771.5 509.5h-14"/>
<path d="M223.5 471.5h13.5 M1771.5 471.5h-14"/>
<path d="M223.5 432.5h25.5 M1771.5 432.5h-26"/>
<path d="M223.5 394.5h13.5 M1771.5 394.5h-14"/>
<path d="M223.5 356.5h13.5 M1771.5 356.5h-14"/>
<path d="M223.5 318.5h13.5 M1771.5 318.5h-14"/>
<path d="M223.5 279.5h13.5 M1771.5 279.5h-14"/>
<path d="M223.5 241.5h25.5 M1771.5 241.5h-26"/>
<path d="M223.5 203.5h13.5 M1771.5 203.5h-14"/>
<path d="M223.5 164.5h13.5 M1771.5 164.5h-14"/>
<path d="M223.5 126.5h13.5 M1771.5 126.5h-14"/>
<path d="M223.5 88.5h13.5 M1771.5 88.5h-14"/>
<path d="M331.5 50.5v12.5 M331.5 1007.5v-14"/>
<path d="M438.5 50.5v25.5 M438.5 1007.5v-26.5"/>
<path d="M546.5 50.5v12.5 M546.5 1007.5v-14"/>
<path d="M653.5 50.5v25.5 M653.5 1007.5v-26.5"/>
<path d="M760.5 50.5v12.5 M760.5 1007.5v-14"/>
<path d="M868.5 50.5v25.5 M868.5 1007.5v-26.5"/>
<path d="M975.5 50.5v12.5 M975.5 1007.5v-14"/>
<path d="M1083.5 50.5v25.5 M1083.5 1007.5v-26.5"/>
<path d="M1190.5 50.5v12.5 M1190.5 1007.5v-14"/>
<path d="M1298.5 50.5v25.5 M1298.5 1007.5v-26.5"/>
<path d="M1405.5 50.5v12.5 M1405.5 1007.5v-14"/>
<path d="M1513.5 50.5v25.5 M1513.5 1007.5v-26.5"/>
<path d="M1620.5 50.5v12.5 M1620.5 1007.5v-14"/>
<path d="M1728.5 50.5v25.5 M1728.5 1007.5v-26.5"/>
</g>
<rect x="223.5" y="50.5" width="1548.0" height="957.0" fill="none" stroke="#000" stroke-width="3" shape-rendering="crispEdges"/>
<g fill="none" stroke-width="10" shape-rendering="crispEdges">
<path stroke="#ff0000" d="M1100 617H1220"/>
<path stroke="#000000" d="M1100 682H1220"/>
<path stroke="#0000ff" stroke-dasharray="43 7" stroke-dashoffset="4" d="M1100 747H1220"/>
<path stroke="#008000" stroke-dasharray="18 7" stroke-dashoffset="4" d="M1100 812H1220"/>
<path stroke="#ff00ff" stroke-dasharray="43 7 18 7" stroke-dashoffset="4" d="M1100 877H1220"/>
</g>
<text x="1284" y="637">Present</text>
<text x="1284" y="702">Experiment</text>
<text x="1284" y="767">Biedron (2008)</text>
<text x="1284" y="832">Boyd (2009)</text>
<text x="1284" y="897">Kim (2019)</text>
<g text-anchor="end">
<text x="207.5" y="80.0">0.2</text>
<text x="207.5" y="260.9">0.15</text>
<text x="207.5" y="452.3">0.1</text>
<text x="207.5" y="643.7">0.05</text>
<text x="207.5" y="835.1">0</text>
<text x="207.5" y="1026.5">−0.05</text>
</g><g text-anchor="middle">
<text x="223.5" y="1075">0</text>
<text x="438.5" y="1075">50</text>
<text x="653.5" y="1075">100</text>
<text x="868.5" y="1075">150</text>
<text x="1083.5" y="1075">200</text>
<text x="1298.5" y="1075">250</text>
<text x="1513.5" y="1075">300</text>
<text x="1728.5" y="1075">350</text>
</g>
<text x="997.5" y="1156" text-anchor="middle">Azimuth (°)</text>
<text transform="translate(73.5 529) rotate(-90)" text-anchor="middle">C<tspan font-size="33" dy="8">n</tspan><tspan dy="-8">M</tspan><tspan font-size="33" dy="-28">2</tspan></text>
</svg></body></html>
